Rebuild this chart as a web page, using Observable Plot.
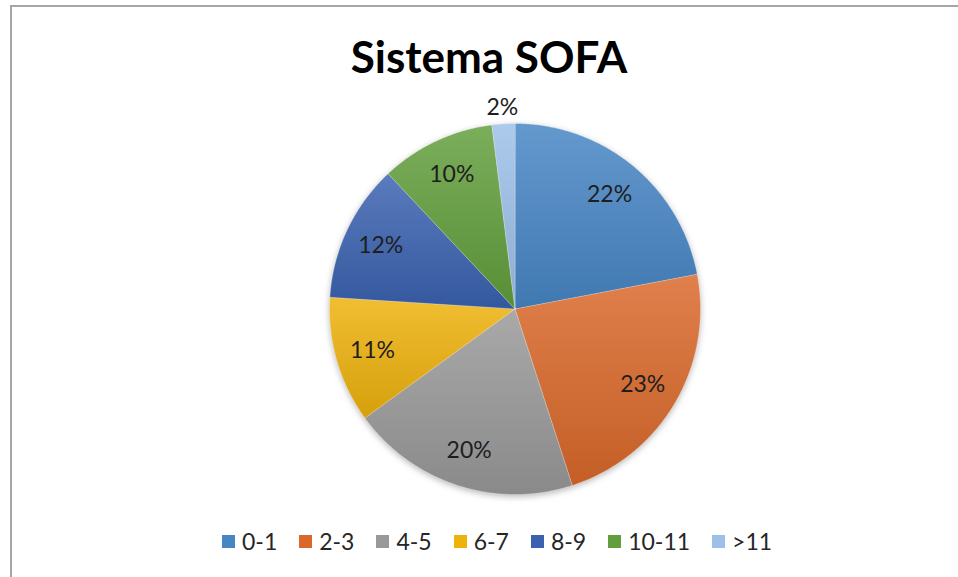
<!DOCTYPE html>
<html>
<head>
<meta charset="utf-8">
<script src="https://cdn.jsdelivr.net/npm/d3@7"></script>
<script src="https://cdn.jsdelivr.net/npm/@observablehq/plot@0.6"></script>
<style>
  body { margin: 0; background: #fff; font-family: Lato, "Open Sans", sans-serif; }
  #wrap { position: relative; width: 958px; height: 577px; overflow: hidden; background: #fff; }
  #frame { position: absolute; left: 10px; top: 5px; width: 960px; height: 600px;
           border-top: 2px solid #a5a5a5; border-left: 2px solid #a5a5a5; }
  #title { position: absolute; top: 28px; left: 10px; width: 958px; text-align: center;
           font-weight: 700; font-size: 44px; color: #000; line-height: 56px; }
  #chart { position: absolute; left: 0; top: 80px; }
  #legend { position: absolute; top: 527px; left: 222px; display: flex; align-items: center;
            font-size: 23px; color: #262626; line-height: 28px; white-space: nowrap; }
  .item { display: flex; align-items: center; margin-right: 22px; }
  .sw { width: 13px; height: 13px; margin-right: 7px; }
</style>
</head>
<body>
<div id="wrap">
  <div id="frame"></div>
  <div id="title">Sistema SOFA</div>
  <div id="chart"></div>
  <div id="legend"></div>
</div>
<script>
const title = "Sistema SOFA";
const categories = ["0-1", "2-3", "4-5", "6-7", "8-9", "10-11", ">11"];
const values = [22, 23, 20, 11, 12, 10, 2];
const colors = ["#4785c5", "#da682a", "#999999", "#eeb20c", "#3a62b0", "#629e3c", "#9cc0e8"];

// build slices from the data with d3.pie (clockwise from 12 o'clock)
const total = d3.sum(values);
const arcs = d3.pie().sort(null).value(d => d)(values);
const slices = arcs.map((a, i) => {
  const ring = [[0, 0]];
  const n = Math.max(2, Math.ceil((a.endAngle - a.startAngle) / (Math.PI / 360)));
  for (let k = 0; k <= n; ++k) {
    const t = a.startAngle + (a.endAngle - a.startAngle) * k / n;
    ring.push([Math.sin(t), Math.cos(t)]);
  }
  ring.push([0, 0]);
  const mid = (a.startAngle + a.endAngle) / 2;
  const share = values[i] / total;
  const lr = share < 0.05 ? 1.09 : 0.8;
  return {
    type: "Feature",
    properties: {
      i, category: categories[i], value: values[i],
      label: Math.round(share * 100) + "%",
      lx: lr * Math.sin(mid), ly: lr * Math.cos(mid)
    },
    geometry: { type: "Polygon", coordinates: [ring] }
  };
});

const W = 958, H = 450;
const cx = 514.5, cy = 228.5, R = 185.5, S = 1.15; // S: room for outside labels

const chart = Plot.plot({
  width: W,
  height: H,
  marginLeft: cx - S * R,
  marginRight: W - cx - S * R,
  marginTop: cy - S * R,
  marginBottom: H - cy - S * R,
  projection: { type: "reflect-y", domain: { type: "MultiPoint", coordinates: [[-S, -S], [S, S]] } },
  color: { domain: categories, range: colors },
  marks: [
    Plot.geo(slices, {
      fill: d => d.properties.category,
      stroke: "#ffffff",
      strokeOpacity: 0.35,
      strokeWidth: 0.8,
      render(index, scales, values, dims, context, next) {
        const g = next(index, scales, values, dims, context);
        d3.select(g).style("filter", "drop-shadow(0px 2px 3px rgba(0,0,0,0.28))");
        d3.select(g).selectAll("path").attr("fill", (d, j) => `url(#grad${slices[index[j]].properties.i})`);
        return g;
      }
    }),
    Plot.text(slices, {
      x: d => d.properties.lx,
      y: d => d.properties.ly,
      text: d => d.properties.label,
      fontSize: 23,
      fill: "#1e1e1e",
      fontFamily: "Lato, 'Open Sans', sans-serif"
    })
  ]
});

// gradients per slice: lighter top, darker bottom
const svg = d3.select(chart);
const defs = svg.insert("defs", ":first-child");
colors.forEach((c, i) => {
  const lg = defs.append("linearGradient").attr("id", "grad" + i)
    .attr("x1", 0).attr("y1", 0).attr("x2", 0).attr("y2", 1);
  lg.append("stop").attr("offset", "0%").attr("stop-color", d3.interpolateRgb(c, "#ffffff")(0.16));
  lg.append("stop").attr("offset", "100%").attr("stop-color", d3.interpolateRgb(c, "#000000")(0.1));
});

document.getElementById("chart").appendChild(chart);
document.getElementById("title").textContent = title;

const legend = d3.select("#legend");
categories.forEach((c, i) => {
  const it = legend.append("div").attr("class", "item");
  it.append("div").attr("class", "sw").style("background", colors[i]);
  it.append("span").text(c);
});
</script>
</body>
</html>
